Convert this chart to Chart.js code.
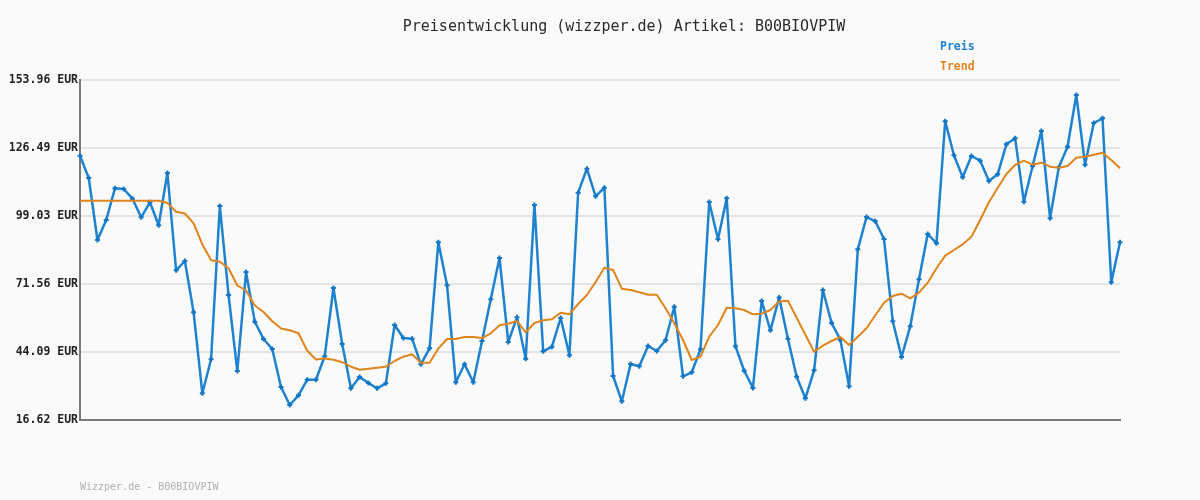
<!DOCTYPE html>
<html>
<head>
<meta charset="utf-8">
<script src="https://cdn.jsdelivr.net/npm/chart.js@4"></script>
<style>
  html, body { margin: 0; padding: 0; background: #fafafa; }
  #wrap { width: 1200px; height: 500px; }
</style>
</head>
<body>
<div id="wrap"><canvas id="priceChart" width="1200" height="500"></canvas></div>
<script>
// price per day (EUR)
var preis = [
  123.38, 114.37, 89.33, 97.41, 110.21, 109.93, 106.01, 98.50, 104.56, 95.27,
  116.39, 77.09, 80.85, 60.12, 27.41, 41.14, 103.06, 67.11, 36.41, 76.40,
  56.33, 49.34, 45.30, 29.95, 22.68, 26.60, 32.90, 32.90, 42.35, 69.94,
  47.32, 29.42, 33.99, 31.57, 29.42, 31.44, 54.99, 49.74, 49.46, 39.12,
  45.58, 88.40, 71.03, 31.85, 39.12, 31.85, 48.53, 65.38, 82.06, 48.13,
  58.10, 41.38, 103.47, 44.37, 46.23, 57.82, 42.75, 108.44, 118.13, 106.98,
  110.46, 34.39, 24.17, 39.24, 38.31, 46.51, 44.49, 48.81, 62.39, 34.27,
  35.89, 45.18, 104.68, 89.61, 106.17, 46.39, 36.53, 29.55, 64.69, 52.85,
  66.10, 49.46, 34.11, 25.39, 36.70, 69.13, 55.80, 49.06, 30.23, 85.57,
  98.62, 96.88, 89.73, 56.49, 42.07, 54.47, 73.45, 91.75, 88.00, 137.28,
  123.54, 114.66, 123.26, 121.36, 113.16, 115.87, 127.99, 130.41, 104.80, 119.22,
  133.36, 98.09, 118.70, 127.02, 147.90, 119.75, 136.59, 138.49, 72.24, 88.40
];

// moving trend (EUR)
var trend = [
  105.20, 105.20, 105.20, 105.20, 105.20, 105.20, 105.20, 105.20, 105.20, 105.20,
  104.28, 100.76, 100.03, 96.07, 87.51, 81.17, 80.52, 77.90, 70.95, 68.93,
  62.87, 60.25, 56.53, 53.58, 52.85, 51.64, 44.57, 41.06, 41.46, 40.94,
  39.97, 38.15, 36.94, 37.34, 37.75, 38.15, 40.45, 42.19, 43.16, 39.77,
  39.77, 45.42, 49.34, 49.34, 50.15, 50.15, 49.74, 51.64, 54.87, 55.52,
  56.61, 52.05, 55.80, 56.89, 57.30, 59.96, 59.32, 63.48, 67.11, 72.36,
  78.14, 77.21, 69.66, 69.13, 68.20, 67.23, 67.23, 61.74, 55.68, 48.94,
  40.86, 42.19, 50.27, 54.99, 61.98, 61.74, 61.05, 59.32, 59.56, 61.05,
  64.49, 64.81, 57.94, 51.08, 44.21, 46.63, 48.53, 50.15, 46.92, 50.27,
  53.66, 58.91, 64.00, 66.71, 67.64, 65.78, 68.04, 72.08, 77.90, 82.99,
  85.29, 87.59, 90.66, 97.41, 104.56, 110.33, 115.99, 119.62, 121.36, 119.75,
  120.55, 118.94, 118.53, 119.22, 122.57, 122.98, 123.79, 124.59, 121.64, 118.29
];

var yTicks = [16.62, 44.09, 71.56, 99.03, 126.49, 153.96];
var labels = preis.map(function (v, i) { return String(i + 1); });

var titleText = 'Preisentwicklung (wizzper.de) Artikel: B00BIOVPIW';
var footerText = 'Wizzper.de - B00BIOVPIW';
var seriesNames = ['Preis', 'Trend'];
var blue = '#1f82cf';
var orange = '#e0841c';

// title, legend and footer at fixed spots
var textPlugin = {
  id: 'texts',
  afterDraw: function (chart) {
    var c = chart.ctx;
    c.save();
    c.textBaseline = 'middle';
    c.fillStyle = '#2a2a2a';
    c.font = '15px "DejaVu Sans Mono"';
    c.textAlign = 'center';
    c.fillText(titleText, 624, 27);
    c.textAlign = 'left';
    c.font = 'bold 11.5px "DejaVu Sans Mono"';
    c.fillStyle = blue;
    c.fillText(seriesNames[0], 940, 47);
    c.fillStyle = orange;
    c.fillText(seriesNames[1], 940, 67);
    c.font = '10px "DejaVu Sans Mono"';
    c.fillStyle = '#b0b0b0';
    c.fillText(footerText, 80, 487);
    c.restore();
  }
};

var ctx = document.getElementById('priceChart').getContext('2d');
var chart = new Chart(ctx, {
  type: 'line',
  data: {
    labels: labels,
    datasets: [
      {
        label: seriesNames[1],
        data: trend,
        borderColor: orange,
        borderWidth: 2,
        borderJoinStyle: 'round',
        pointRadius: 0,
        tension: 0
      },
      {
        label: seriesNames[0],
        data: preis,
        borderColor: blue,
        borderWidth: 2.5,
        borderJoinStyle: 'round',
        pointStyle: 'cross',
        pointRadius: 2.5,
        pointBorderWidth: 2,
        pointBorderColor: '#1276c4',
        pointBackgroundColor: '#1276c4',
        tension: 0
      }
    ]
  },
  options: {
    responsive: false,
    animation: false,
    devicePixelRatio: 1,
    layout: { padding: { left: 0, right: 80, top: 80, bottom: 80 } },
    plugins: {
      legend: { display: false },
      title: { display: false },
      tooltip: { enabled: false }
    },
    scales: {
      x: {
        offset: false,
        ticks: { display: false },
        grid: { display: false, drawTicks: false },
        border: { display: true, color: '#7a7a7a', width: 2 },
        afterFit: function (s) { s.height = 0; }
      },
      y: {
        min: yTicks[0],
        max: yTicks[yTicks.length - 1],
        afterBuildTicks: function (s) {
          s.ticks = yTicks.map(function (v) { return { value: v }; });
        },
        afterFit: function (s) { s.width = 80; },
        ticks: {
          padding: 2,
          color: '#222',
          font: { family: 'DejaVu Sans Mono', size: 11.5, weight: 'bold' },
          callback: function (v) { return Number(v).toFixed(2) + ' EUR'; }
        },
        grid: { color: '#e4e4e4', lineWidth: 2, drawTicks: false },
        border: { display: true, color: '#7a7a7a', width: 2 }
      }
    }
  },
  plugins: [textPlugin]
});
</script>
</body>
</html>
